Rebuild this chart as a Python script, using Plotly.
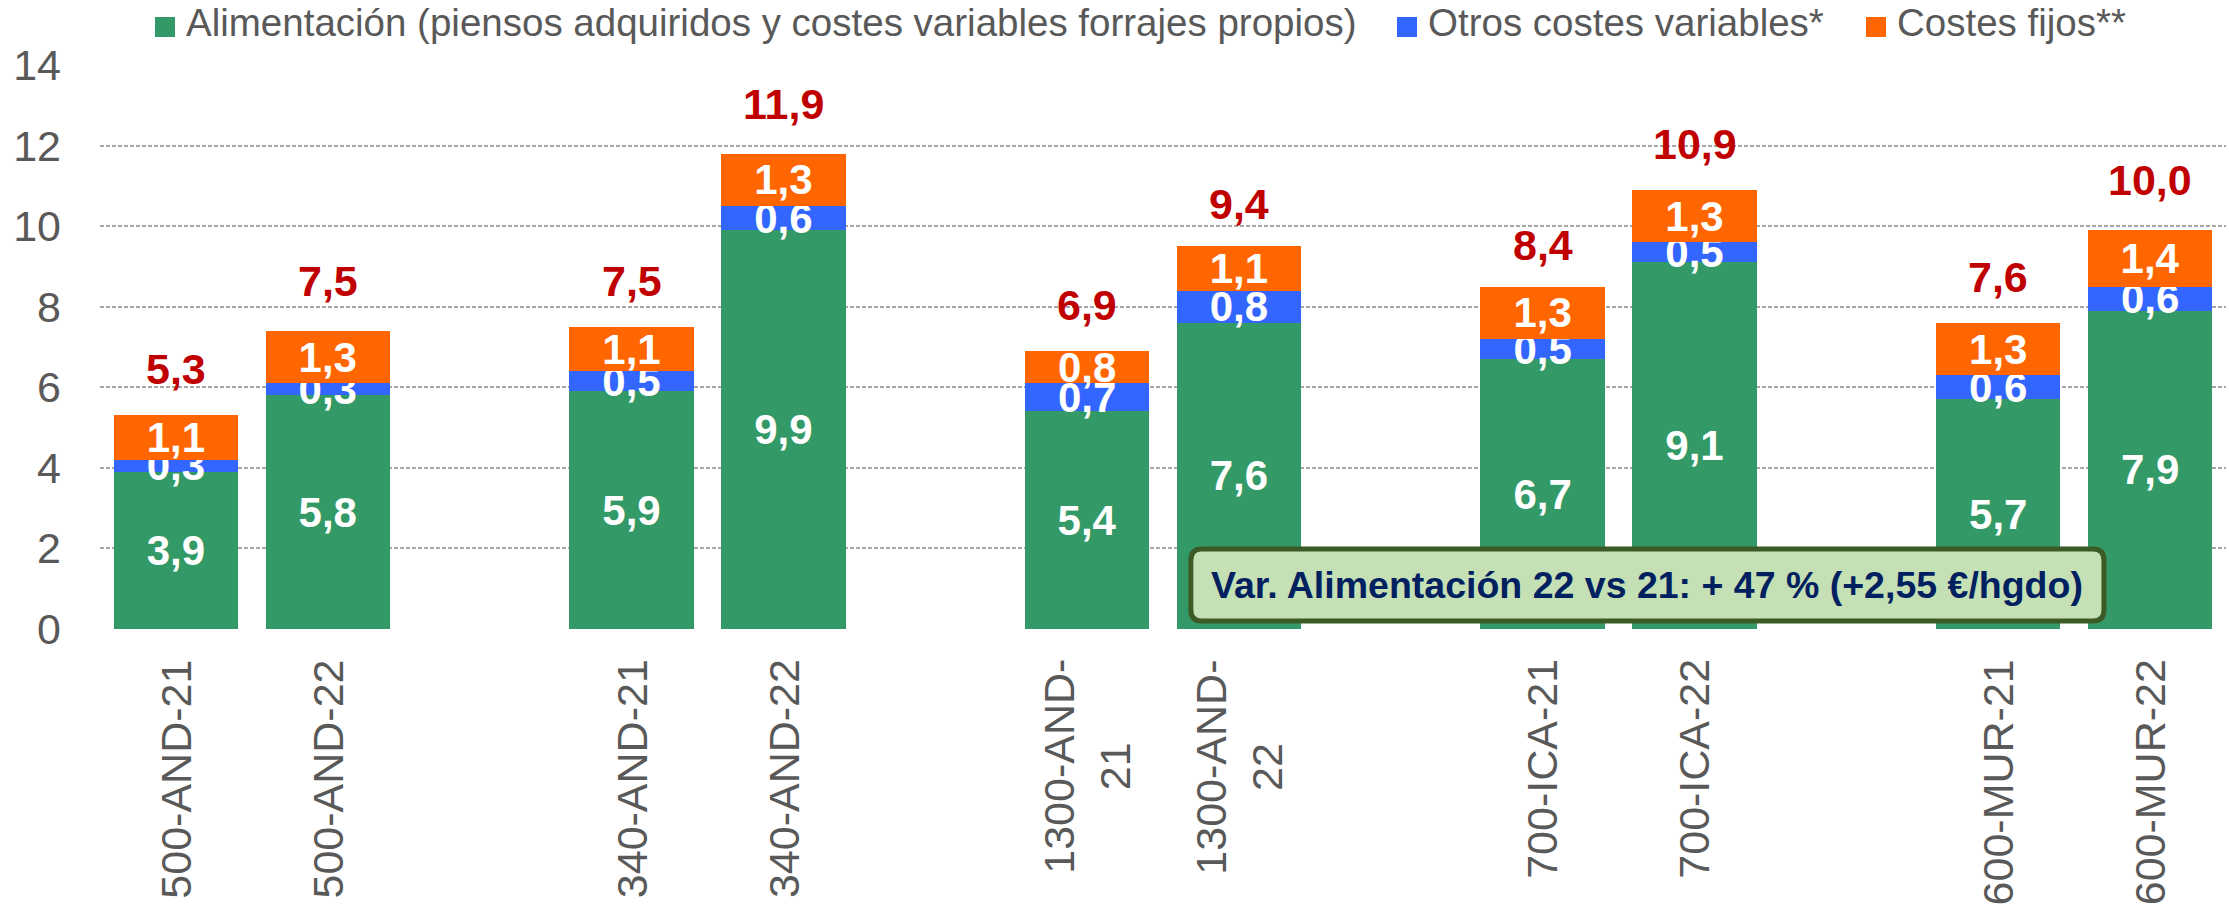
import plotly.graph_objects as go

# ---- data ----
categories = ["500-AND-21", "500-AND-22", "340-AND-21", "340-AND-22",
              "1300-AND-21", "1300-AND-22", "700-ICA-21", "700-ICA-22",
              "600-MUR-21", "600-MUR-22"]
tick_labels = ["500-AND-21", "500-AND-22", "340-AND-21", "340-AND-22",
               "1300-AND-<br>21", "1300-AND-<br>22", "700-ICA-21", "700-ICA-22",
               "600-MUR-21", "600-MUR-22"]
# category slots (with empty gap slots between farm groups)
slots = ["500-AND-21", "500-AND-22", "gap1", "340-AND-21", "340-AND-22", "gap2",
         "1300-AND-21", "1300-AND-22", "gap3", "700-ICA-21", "700-ICA-22", "gap4",
         "600-MUR-21", "600-MUR-22"]

alimentacion = [3.9, 5.8, 5.9, 9.9, 5.4, 7.6, 6.7, 9.1, 5.7, 7.9]
otros_variables = [0.3, 0.3, 0.5, 0.6, 0.7, 0.8, 0.5, 0.5, 0.6, 0.6]
costes_fijos = [1.1, 1.3, 1.1, 1.3, 0.8, 1.1, 1.3, 1.3, 1.3, 1.4]
totales = [5.3, 7.5, 7.5, 11.9, 6.9, 9.4, 8.4, 10.9, 7.6, 10.0]

series_names = ["Alimentación (piensos adquiridos y costes variables forrajes propios)",
                "Otros costes variables*", "Costes fijos**"]
series_colors = ["#339966", "#3366FF", "#FF6600"]

box_text = "Var. Alimentación 22 vs 21: + 47 % (+2,55 €/hgdo)"

FONT = "Liberation Sans, Arial, sans-serif"
GREY = "#595959"

# figure geometry (pixels) used to place legend in paper coordinates
W, H = 2229, 906
ML, MR, MT, MB = 100, 3, 65, 277
PW, PH = W - ML - MR, H - MT - MB


def px_x(px):
    return (px - ML) / PW


def px_y(py):
    return (H - MB - py) / PH


fig = go.Figure()
for name, vals, col in zip(series_names, [alimentacion, otros_variables, costes_fijos],
                           series_colors):
    fig.add_trace(go.Bar(
        x=categories, y=vals, name=name, showlegend=False,
        marker=dict(color=col, line=dict(width=0)),
        texttemplate="%{y:.1f}", textposition="inside", insidetextanchor="middle",
        textangle=0, constraintext="none",
        textfont=dict(family=FONT, size=42, color="white", weight="bold"),
    ))

# legend (drawn as squares + text above the plot)
legend_square_left = [155, 1397, 1866]
for name, col, left in zip(series_names, series_colors, legend_square_left):
    fig.add_shape(type="rect", xref="paper", yref="paper",
                  x0=px_x(left), x1=px_x(left + 20), y0=px_y(37), y1=px_y(17),
                  fillcolor=col, line=dict(width=0))
    fig.add_annotation(x=px_x(left + 29), y=px_y(23), xref="paper", yref="paper",
                       text=name, showarrow=False, xanchor="left", yanchor="middle",
                       font=dict(family=FONT, size=38.5, color=GREY))

# totals above bars
for c, t in zip(categories, totales):
    fig.add_annotation(x=c, y=t, xref="x", yref="y", text=f"{t:.1f}".replace(".", ","),
                       showarrow=False, yanchor="bottom", yshift=20,
                       font=dict(family=FONT, size=43, color="#C00000", weight="bold"))

# category labels (rotated)
for c, lab in zip(categories, tick_labels):
    fig.add_annotation(x=c, y=-0.05, xref="x", yref="paper", text=lab, textangle=-90,
                       showarrow=False, xanchor="center", yanchor="top", align="center",
                       font=dict(family=FONT, size=43, color=GREY))

# highlighted box
x0, x1, y0, y1 = 0.5131, 0.9426, 0.0142, 0.1418
rx, ry = 0.005, 0.02
path = (f"M {x0+rx},{y0} L {x1-rx},{y0} Q {x1},{y0} {x1},{y0+ry} L {x1},{y1-ry} "
        f"Q {x1},{y1} {x1-rx},{y1} L {x0+rx},{y1} Q {x0},{y1} {x0},{y1-ry} "
        f"L {x0},{y0+ry} Q {x0},{y0} {x0+rx},{y0} Z")
fig.add_shape(type="path", path=path, xref="paper", yref="paper",
              fillcolor="#C5E0B4", line=dict(color="#3B5A26", width=5), layer="above")
fig.add_annotation(x=(x0 + x1) / 2, y=(y0 + y1) / 2, xref="paper", yref="paper",
                   text=box_text, showarrow=False, xanchor="center", yanchor="middle",
                   font=dict(family=FONT, size=37.5, color="#002060", weight="bold"))

fig.update_layout(
    width=W, height=H,
    margin=dict(l=ML, r=MR, t=MT, b=MB),
    barmode="stack", bargap=0.18,
    separators=",.",
    plot_bgcolor="white", paper_bgcolor="white",
    font=dict(family=FONT, color=GREY),
    showlegend=False,
    xaxis=dict(type="category", categoryorder="array", categoryarray=slots,
               range=[-0.5, len(slots) - 0.5], showticklabels=False,
               showgrid=False, zeroline=False, showline=False, ticks=""),
    yaxis=dict(range=[0, 14], dtick=2, tick0=0, showgrid=True, gridcolor="#A6A6A6",
               gridwidth=2, griddash="4px,2px", zeroline=False, showline=False,
               ticks="", ticklabelstandoff=38,
               tickfont=dict(family=FONT, size=43, color=GREY)),
)

fig.write_html("out.html", config={"displayModeBar": False},
               post_script="document.body.style.margin='0';document.body.style.padding='0';")
